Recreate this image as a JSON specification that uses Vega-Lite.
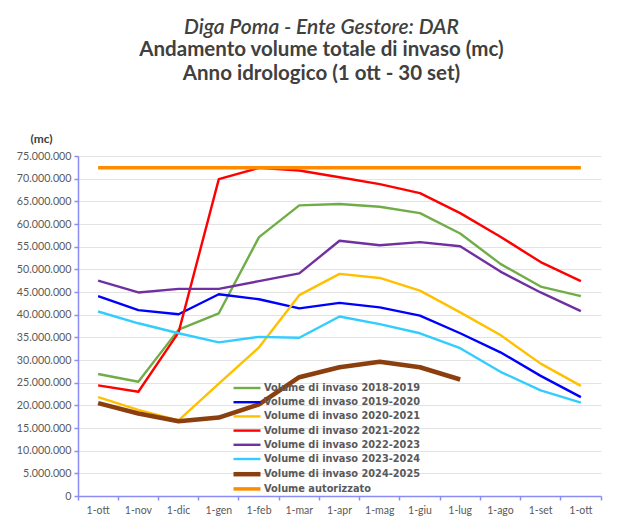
{
  "$schema": "https://vega.github.io/schema/vega-lite/v6.json",
  "autosize": {"type": "none"},
  "padding": {"left": 78, "top": 156, "right": 38, "bottom": 32},
  "width": 523,
  "height": 340,
  "background": "white",
  "config": {
    "font": "Lato",
    "view": {"stroke": null},
    "locale": {"number": {"decimal": ",", "thousands": ".", "grouping": [3], "currency": ["", " €"]}}
  },
  "title": {
    "text": "Diga Poma - Ente Gestore: DAR",
    "subtitle": ["Andamento volume totale di invaso (mc)", "Anno idrologico (1 ott - 30 set)"],
    "anchor": "middle",
    "frame": "group",
    "dx": -18,
    "offset": 48,
    "fontSize": 21,
    "fontStyle": "italic",
    "fontWeight": 600,
    "color": "#404040",
    "subtitleFontSize": 20.5,
    "subtitleFontWeight": "bold",
    "subtitleColor": "#404040",
    "subtitleLineHeight": 24,
    "subtitlePadding": 2
  },
  "data": {
    "values": [
      {"mese": "1-ott", "serie": "Volume di invaso 2018-2019", "volume": 26900000},
      {"mese": "1-nov", "serie": "Volume di invaso 2018-2019", "volume": 25200000},
      {"mese": "1-dic", "serie": "Volume di invaso 2018-2019", "volume": 36700000},
      {"mese": "1-gen", "serie": "Volume di invaso 2018-2019", "volume": 40300000},
      {"mese": "1-feb", "serie": "Volume di invaso 2018-2019", "volume": 57100000},
      {"mese": "1-mar", "serie": "Volume di invaso 2018-2019", "volume": 64100000},
      {"mese": "1-apr", "serie": "Volume di invaso 2018-2019", "volume": 64400000},
      {"mese": "1-mag", "serie": "Volume di invaso 2018-2019", "volume": 63800000},
      {"mese": "1-giu", "serie": "Volume di invaso 2018-2019", "volume": 62400000},
      {"mese": "1-lug", "serie": "Volume di invaso 2018-2019", "volume": 57900000},
      {"mese": "1-ago", "serie": "Volume di invaso 2018-2019", "volume": 51200000},
      {"mese": "1-set", "serie": "Volume di invaso 2018-2019", "volume": 46200000},
      {"mese": "1-ott ", "serie": "Volume di invaso 2018-2019", "volume": 44100000},

      {"mese": "1-ott", "serie": "Volume di invaso 2019-2020", "volume": 44100000},
      {"mese": "1-nov", "serie": "Volume di invaso 2019-2020", "volume": 41000000},
      {"mese": "1-dic", "serie": "Volume di invaso 2019-2020", "volume": 40100000},
      {"mese": "1-gen", "serie": "Volume di invaso 2019-2020", "volume": 44500000},
      {"mese": "1-feb", "serie": "Volume di invaso 2019-2020", "volume": 43400000},
      {"mese": "1-mar", "serie": "Volume di invaso 2019-2020", "volume": 41400000},
      {"mese": "1-apr", "serie": "Volume di invaso 2019-2020", "volume": 42600000},
      {"mese": "1-mag", "serie": "Volume di invaso 2019-2020", "volume": 41600000},
      {"mese": "1-giu", "serie": "Volume di invaso 2019-2020", "volume": 39800000},
      {"mese": "1-lug", "serie": "Volume di invaso 2019-2020", "volume": 35900000},
      {"mese": "1-ago", "serie": "Volume di invaso 2019-2020", "volume": 31700000},
      {"mese": "1-set", "serie": "Volume di invaso 2019-2020", "volume": 26500000},
      {"mese": "1-ott ", "serie": "Volume di invaso 2019-2020", "volume": 21800000},

      {"mese": "1-ott", "serie": "Volume di invaso 2020-2021", "volume": 21800000},
      {"mese": "1-nov", "serie": "Volume di invaso 2020-2021", "volume": 19000000},
      {"mese": "1-dic", "serie": "Volume di invaso 2020-2021", "volume": 16700000},
      {"mese": "1-gen", "serie": "Volume di invaso 2020-2021", "volume": 24800000},
      {"mese": "1-feb", "serie": "Volume di invaso 2020-2021", "volume": 32800000},
      {"mese": "1-mar", "serie": "Volume di invaso 2020-2021", "volume": 44300000},
      {"mese": "1-apr", "serie": "Volume di invaso 2020-2021", "volume": 49000000},
      {"mese": "1-mag", "serie": "Volume di invaso 2020-2021", "volume": 48100000},
      {"mese": "1-giu", "serie": "Volume di invaso 2020-2021", "volume": 45300000},
      {"mese": "1-lug", "serie": "Volume di invaso 2020-2021", "volume": 40500000},
      {"mese": "1-ago", "serie": "Volume di invaso 2020-2021", "volume": 35500000},
      {"mese": "1-set", "serie": "Volume di invaso 2020-2021", "volume": 29200000},
      {"mese": "1-ott ", "serie": "Volume di invaso 2020-2021", "volume": 24300000},

      {"mese": "1-ott", "serie": "Volume di invaso 2021-2022", "volume": 24400000},
      {"mese": "1-nov", "serie": "Volume di invaso 2021-2022", "volume": 23000000},
      {"mese": "1-dic", "serie": "Volume di invaso 2021-2022", "volume": 36100000},
      {"mese": "1-gen", "serie": "Volume di invaso 2021-2022", "volume": 69900000},
      {"mese": "1-feb", "serie": "Volume di invaso 2021-2022", "volume": 72400000},
      {"mese": "1-mar", "serie": "Volume di invaso 2021-2022", "volume": 71800000},
      {"mese": "1-apr", "serie": "Volume di invaso 2021-2022", "volume": 70300000},
      {"mese": "1-mag", "serie": "Volume di invaso 2021-2022", "volume": 68800000},
      {"mese": "1-giu", "serie": "Volume di invaso 2021-2022", "volume": 66800000},
      {"mese": "1-lug", "serie": "Volume di invaso 2021-2022", "volume": 62400000},
      {"mese": "1-ago", "serie": "Volume di invaso 2021-2022", "volume": 57200000},
      {"mese": "1-set", "serie": "Volume di invaso 2021-2022", "volume": 51600000},
      {"mese": "1-ott ", "serie": "Volume di invaso 2021-2022", "volume": 47400000},

      {"mese": "1-ott", "serie": "Volume di invaso 2022-2023", "volume": 47500000},
      {"mese": "1-nov", "serie": "Volume di invaso 2022-2023", "volume": 44900000},
      {"mese": "1-dic", "serie": "Volume di invaso 2022-2023", "volume": 45700000},
      {"mese": "1-gen", "serie": "Volume di invaso 2022-2023", "volume": 45700000},
      {"mese": "1-feb", "serie": "Volume di invaso 2022-2023", "volume": 47400000},
      {"mese": "1-mar", "serie": "Volume di invaso 2022-2023", "volume": 49100000},
      {"mese": "1-apr", "serie": "Volume di invaso 2022-2023", "volume": 56300000},
      {"mese": "1-mag", "serie": "Volume di invaso 2022-2023", "volume": 55300000},
      {"mese": "1-giu", "serie": "Volume di invaso 2022-2023", "volume": 56000000},
      {"mese": "1-lug", "serie": "Volume di invaso 2022-2023", "volume": 55100000},
      {"mese": "1-ago", "serie": "Volume di invaso 2022-2023", "volume": 49500000},
      {"mese": "1-set", "serie": "Volume di invaso 2022-2023", "volume": 44900000},
      {"mese": "1-ott ", "serie": "Volume di invaso 2022-2023", "volume": 40800000},

      {"mese": "1-ott", "serie": "Volume di invaso 2023-2024", "volume": 40700000},
      {"mese": "1-nov", "serie": "Volume di invaso 2023-2024", "volume": 38100000},
      {"mese": "1-dic", "serie": "Volume di invaso 2023-2024", "volume": 35900000},
      {"mese": "1-gen", "serie": "Volume di invaso 2023-2024", "volume": 33900000},
      {"mese": "1-feb", "serie": "Volume di invaso 2023-2024", "volume": 35100000},
      {"mese": "1-mar", "serie": "Volume di invaso 2023-2024", "volume": 34900000},
      {"mese": "1-apr", "serie": "Volume di invaso 2023-2024", "volume": 39600000},
      {"mese": "1-mag", "serie": "Volume di invaso 2023-2024", "volume": 37900000},
      {"mese": "1-giu", "serie": "Volume di invaso 2023-2024", "volume": 35900000},
      {"mese": "1-lug", "serie": "Volume di invaso 2023-2024", "volume": 32600000},
      {"mese": "1-ago", "serie": "Volume di invaso 2023-2024", "volume": 27400000},
      {"mese": "1-set", "serie": "Volume di invaso 2023-2024", "volume": 23300000},
      {"mese": "1-ott ", "serie": "Volume di invaso 2023-2024", "volume": 20600000},

      {"mese": "1-ott", "serie": "Volume di invaso 2024-2025", "volume": 20500000},
      {"mese": "1-nov", "serie": "Volume di invaso 2024-2025", "volume": 18200000},
      {"mese": "1-dic", "serie": "Volume di invaso 2024-2025", "volume": 16500000},
      {"mese": "1-gen", "serie": "Volume di invaso 2024-2025", "volume": 17300000},
      {"mese": "1-feb", "serie": "Volume di invaso 2024-2025", "volume": 20200000},
      {"mese": "1-mar", "serie": "Volume di invaso 2024-2025", "volume": 26200000},
      {"mese": "1-apr", "serie": "Volume di invaso 2024-2025", "volume": 28400000},
      {"mese": "1-mag", "serie": "Volume di invaso 2024-2025", "volume": 29600000},
      {"mese": "1-giu", "serie": "Volume di invaso 2024-2025", "volume": 28400000},
      {"mese": "1-lug", "serie": "Volume di invaso 2024-2025", "volume": 25700000},

      {"mese": "1-ott", "serie": "Volume autorizzato", "volume": 72400000},
      {"mese": "1-nov", "serie": "Volume autorizzato", "volume": 72400000},
      {"mese": "1-dic", "serie": "Volume autorizzato", "volume": 72400000},
      {"mese": "1-gen", "serie": "Volume autorizzato", "volume": 72400000},
      {"mese": "1-feb", "serie": "Volume autorizzato", "volume": 72400000},
      {"mese": "1-mar", "serie": "Volume autorizzato", "volume": 72400000},
      {"mese": "1-apr", "serie": "Volume autorizzato", "volume": 72400000},
      {"mese": "1-mag", "serie": "Volume autorizzato", "volume": 72400000},
      {"mese": "1-giu", "serie": "Volume autorizzato", "volume": 72400000},
      {"mese": "1-lug", "serie": "Volume autorizzato", "volume": 72400000},
      {"mese": "1-ago", "serie": "Volume autorizzato", "volume": 72400000},
      {"mese": "1-set", "serie": "Volume autorizzato", "volume": 72400000},
      {"mese": "1-ott ", "serie": "Volume autorizzato", "volume": 72400000}
    ]
  },
  "mark": {"type": "line", "strokeJoin": "round", "strokeCap": "butt"},
  "encoding": {
    "x": {
      "field": "mese",
      "type": "ordinal",
      "sort": ["1-ott", "1-nov", "1-dic", "1-gen", "1-feb", "1-mar", "1-apr", "1-mag", "1-giu", "1-lug", "1-ago", "1-set", "1-ott "],
      "bandPosition": 0.5,
      "scale": {"type": "band", "paddingInner": 0, "paddingOuter": 0},
      "axis": {
        "title": null,
        "labelAngle": 0,
        "bandPosition": 1,
        "tickExtra": true,
        "grid": false,
        "domainColor": "#8c8cf5",
        "domainWidth": 1.5,
        "tickColor": "#8c8cf5",
        "tickWidth": 1.5,
        "tickSize": 4,
        "labelFontSize": 10.5,
        "labelColor": "#595959",
        "labelPadding": 5
      }
    },
    "y": {
      "field": "volume",
      "type": "quantitative",
      "scale": {"domain": [0, 75000000], "nice": false},
      "axis": {
        "title": "(mc)",
        "titleAngle": 0,
        "titleAlign": "center",
        "titleBaseline": "middle",
        "titleX": -37,
        "titleY": -18,
        "titleFontSize": 12,
        "titleFontWeight": "bold",
        "titleColor": "#404040",
        "values": [0, 5000000, 10000000, 15000000, 20000000, 25000000, 30000000, 35000000, 40000000, 45000000, 50000000, 55000000, 60000000, 65000000, 70000000, 75000000],
        "format": ",d",
        "gridColor": "#e3e3e3",
        "gridWidth": 1.2,
        "domainColor": "#8c8cf5",
        "domainWidth": 1.5,
        "tickColor": "#8c8cf5",
        "tickWidth": 1.5,
        "tickSize": 4,
        "labelFontSize": 10.7,
        "labelColor": "#595959",
        "labelPadding": 3
      }
    },
    "color": {
      "field": "serie",
      "type": "nominal",
      "scale": {
        "domain": ["Volume di invaso 2018-2019", "Volume di invaso 2019-2020", "Volume di invaso 2020-2021", "Volume di invaso 2021-2022", "Volume di invaso 2022-2023", "Volume di invaso 2023-2024", "Volume di invaso 2024-2025", "Volume autorizzato"],
        "range": ["#70ad47", "#0000ff", "#ffc000", "#ff0000", "#7030a0", "#33ccff", "#8b3f0f", "#ff8c00"]
      },
      "legend": {
        "title": null,
        "orient": "none",
        "legendX": 162,
        "legendY": 226,
        "padding": 0,
        "symbolType": "M-3,0H3",
        "symbolSize": 81,
        "labelOffset": 10,
        "rowPadding": 3.2,
        "labelFont": "DejaVu Sans",
        "labelFontSize": 9.8,
        "labelFontWeight": "bold",
        "labelColor": "#595959",
        "labelLimit": 300,
        "encode": {"symbols": {"update": {"strokeJoin": {"value": "round"}}}}
      }
    },
    "strokeWidth": {
      "field": "serie",
      "type": "ordinal",
      "scale": {
        "type": "ordinal",
        "domain": ["Volume di invaso 2018-2019", "Volume di invaso 2019-2020", "Volume di invaso 2020-2021", "Volume di invaso 2021-2022", "Volume di invaso 2022-2023", "Volume di invaso 2023-2024", "Volume di invaso 2024-2025", "Volume autorizzato"],
        "range": [2.4, 2.4, 2.4, 2.4, 2.4, 2.4, 4.5, 3.5]
      },
      "legend": null
    }
  }
}
